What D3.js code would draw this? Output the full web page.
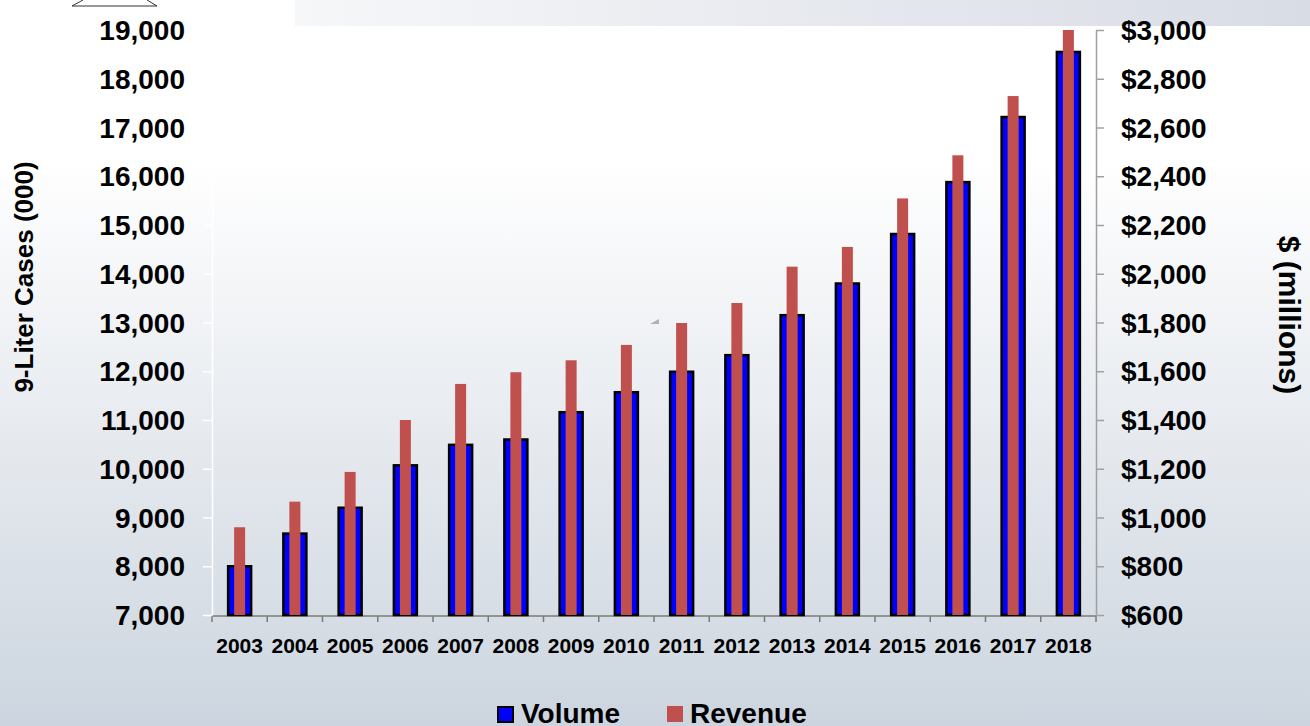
<!DOCTYPE html>
<html>
<head>
<meta charset="utf-8">
<script src="https://d3js.org/d3.v7.min.js"></script>
<style>
body { margin: 0; overflow: hidden; }
text {
  font-family: "Liberation Sans", Arial, sans-serif;
  font-weight: bold;
  fill: #000;
}
.tick text { font-size: 28px; }
.axis--x .tick text { font-size: 21px; }
.axis--left path, .axis--left line { stroke: #fff; stroke-width: 1.5; }
.axis--right path, .axis--right line { stroke: #a0a0a0; stroke-width: 1.5; }
.axis--x path, .axis--x line { stroke: #7a7a7a; stroke-width: 1.5; }
</style>
</head>
<body>
<div id="container"></div>
<script>

var years = ["2003","2004","2005","2006","2007","2008","2009","2010",
             "2011","2012","2013","2014","2015","2016","2017","2018"];
// 9-liter cases (000)
var volume = [8000, 8670, 9200, 10070, 10490, 10600, 11160, 11570,
              11990, 12330, 13150, 13800, 14815, 15880, 17215, 18550];
// $ millions
var revenue = [960, 1065, 1187, 1400, 1548, 1596, 1645, 1708,
               1798, 1880, 2029, 2110, 2309, 2486, 2729, 3000];
var leftTicks = [7000, 8000, 9000, 10000, 11000, 12000, 13000, 14000,
                 15000, 16000, 17000, 18000, 19000];
var rightTicks = [600, 800, 1000, 1200, 1400, 1600, 1800, 2000,
                  2200, 2400, 2600, 2800, 3000];

var W = 1310, H = 726;
var plotL = 212, plotR = 1096, plotT = 30, plotB = 615;

var svg = d3.select("#container").append("svg")
    .attr("width", W)
    .attr("height", H);

var defs = svg.append("defs");
var bg = defs.append("linearGradient").attr("id", "bg")
    .attr("x1", 0).attr("y1", 0).attr("x2", 0).attr("y2", 1);
bg.append("stop").attr("offset", "0%").attr("stop-color", "#ffffff");
bg.append("stop").attr("offset", "22%").attr("stop-color", "#ffffff");
bg.append("stop").attr("offset", "62%").attr("stop-color", "#e5e9ee");
bg.append("stop").attr("offset", "100%").attr("stop-color", "#ccd5df");

var band = defs.append("linearGradient").attr("id", "band")
    .attr("x1", 0).attr("y1", 0).attr("x2", 1).attr("y2", 0);
band.append("stop").attr("offset", "0%").attr("stop-color", "#f6f7f9");
band.append("stop").attr("offset", "100%").attr("stop-color", "#d8dce5");

svg.append("rect").attr("width", W).attr("height", H).attr("fill", "url(#bg)");
svg.append("rect").attr("x", 295).attr("y", 0).attr("width", W - 295).attr("height", 26)
    .attr("fill", "url(#band)");

// leftover bits of slide decoration
svg.append("path").attr("d", "M72,6 L83,0 M72,6 L157,6 L147,0")
    .attr("fill", "none").attr("stroke", "#333").attr("stroke-width", 1);
svg.append("path").attr("d", "M650,324 L659,324 L659,319 Z").attr("fill", "#b0b0b0");

var x = d3.scaleBand().domain(years).range([plotL, plotR]).padding(0);
var yL = d3.scaleLinear().domain([7000, 19000]).range([plotB, plotT]);
var yR = d3.scaleLinear().domain([600, 3000]).range([plotB, plotT]);

var data = years.map(function(d, i) {
  return {year: d, volume: volume[i], revenue: revenue[i]};
});

// axes
svg.append("g")
    .attr("class", "axis axis--x")
    .attr("transform", "translate(0," + (plotB + 1) + ")")
    .call(d3.axisBottom(x).tickSize(0).tickPadding(22))
  .call(function(g) {
    g.selectAll(".tick line").remove();
    g.selectAll(".boundary")
      .data(years.concat(["end"]))
      .enter().append("line")
        .attr("class", "boundary")
        .attr("x1", function(d, i) { return plotL + i * x.step(); })
        .attr("x2", function(d, i) { return plotL + i * x.step(); })
        .attr("y1", 0).attr("y2", 6);
    g.select(".domain").attr("d", "M" + plotL + ",0H" + plotR);
  });

svg.append("g")
    .attr("class", "axis axis--left")
    .attr("transform", "translate(" + plotL + ",0)")
    .call(d3.axisLeft(yL).tickValues(leftTicks).tickSize(9).tickSizeOuter(0)
      .tickPadding(18).tickFormat(d3.format(",")));

svg.append("g")
    .attr("class", "axis axis--right")
    .attr("transform", "translate(" + plotR + ",0)")
    .call(d3.axisRight(yR).tickValues(rightTicks).tickSize(8).tickSizeOuter(0)
      .tickPadding(17).tickFormat(function(d) { return "$" + d3.format(",")(d); }));

svg.selectAll(".tick text").attr("dy", "0.34em");
svg.selectAll(".axis--x .tick text").attr("dy", "0.71em");

// bars
var blueW = 23, redW = 11;
svg.selectAll(".vol")
    .data(data)
  .enter().append("rect")
    .attr("class", "vol")
    .attr("x", function(d) { return x(d.year) + x.bandwidth() / 2 - blueW / 2; })
    .attr("y", function(d) { return yL(d.volume); })
    .attr("width", blueW)
    .attr("height", function(d) { return plotB - yL(d.volume); })
    .attr("fill", "#0000ff")
    .attr("stroke", "#000")
    .attr("stroke-width", 2.5);

svg.selectAll(".rev")
    .data(data)
  .enter().append("rect")
    .attr("class", "rev")
    .attr("x", function(d) { return x(d.year) + x.bandwidth() / 2 - redW / 2; })
    .attr("y", function(d) { return yR(d.revenue); })
    .attr("width", redW)
    .attr("height", function(d) { return plotB - yR(d.revenue); })
    .attr("fill", "#c0504d");

// axis titles
svg.append("text")
    .attr("transform", "translate(33,277) rotate(-90)")
    .attr("text-anchor", "middle")
    .style("font-size", "26px")
    .text("9-Liter Cases (000)");

svg.append("text")
    .attr("transform", "translate(1279,315) rotate(90)")
    .attr("text-anchor", "middle")
    .style("font-size", "30px")
    .text("$ (millions)");

// legend
svg.append("rect").attr("x", 498).attr("y", 707).attr("width", 15).attr("height", 15)
    .attr("fill", "#0000ff").attr("stroke", "#000").attr("stroke-width", 2);
svg.append("text").attr("x", 521).attr("y", 723).style("font-size", "28px").text("Volume");
svg.append("rect").attr("x", 667).attr("y", 706).attr("width", 16).attr("height", 16)
    .attr("fill", "#c0504d");
svg.append("text").attr("x", 690).attr("y", 723).style("font-size", "28px").text("Revenue");

</script>
</body>
</html>
